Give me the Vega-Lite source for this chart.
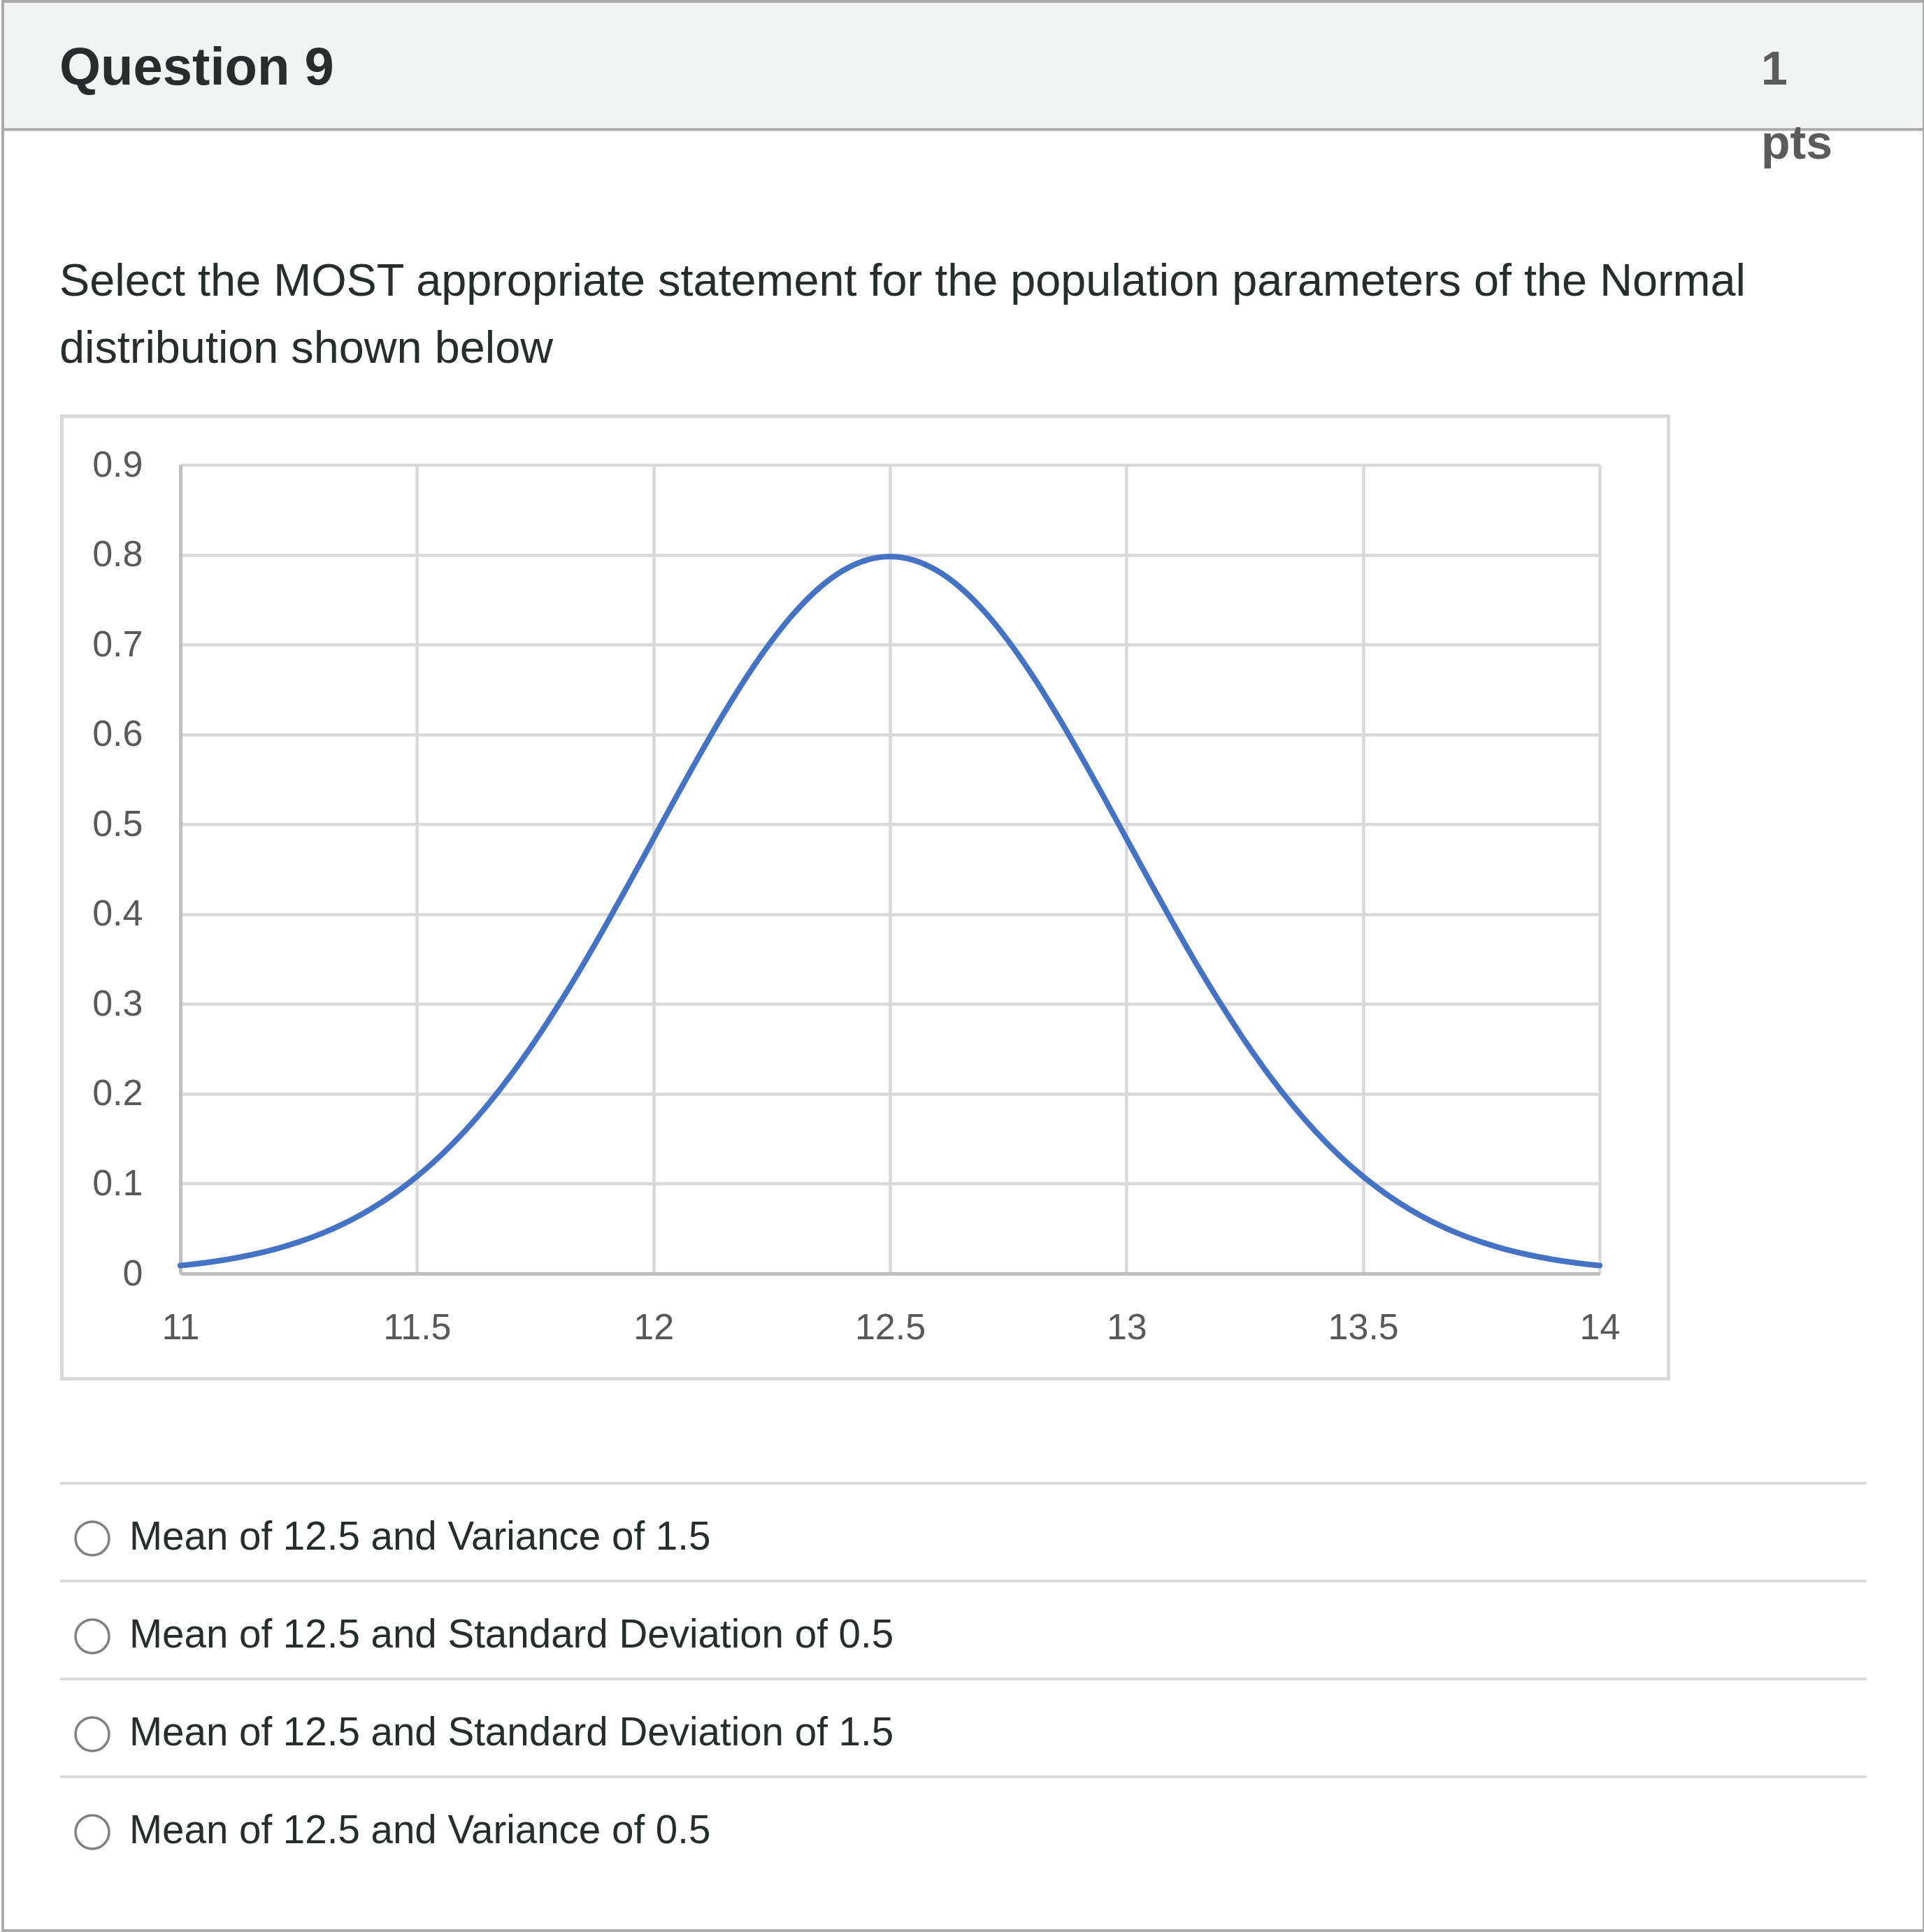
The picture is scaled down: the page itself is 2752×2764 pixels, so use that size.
{
  "$schema": "https://vega.github.io/schema/vega-lite/v6.json",
  "padding": 0,
  "background": "white",
  "autosize": {"type": "pad"},
  "spacing": 300,
  "bounds": "flush",
  "config": {"view": {"stroke": null}, "font": "Liberation Sans"},
  "vconcat": [
    {
      "width": 2030,
      "height": 365,
      "layer": [
        {
          "data": {"values": [{"part": "header"}]},
          "mark": {"type": "rect", "fill": "#f2f4f4"},
          "encoding": {"x": {"value": -256}, "x2": {"value": 2496}, "y": {"value": 0}, "y2": {"value": 185}}
        },
        {
          "data": {"values": [{"part": "header border"}]},
          "mark": {"type": "rule", "stroke": "#ababab", "strokeWidth": 4},
          "encoding": {"x": {"value": -256}, "x2": {"value": 2496}, "y": {"value": 185.3}}
        },
        {
          "data": {"values": [{"part": "page border"}]},
          "mark": {"type": "rect", "fill": "transparent", "stroke": "#ababab", "strokeWidth": 4},
          "encoding": {"x": {"value": -254}, "x2": {"value": 2494}, "y": {"value": 2}, "y2": {"value": 2762}}
        },
        {
          "data": {"values": [{"label": "Question 9"}]},
          "mark": {"type": "text", "align": "left", "baseline": "alphabetic", "font": "Liberation Sans", "fontWeight": "bold", "fontSize": 76, "color": "#272c2c"},
          "encoding": {"x": {"value": -173}, "y": {"value": 121}, "text": {"field": "label"}}
        },
        {
          "data": {"values": [{"label": "1\npts"}]},
          "mark": {"type": "text", "align": "left", "baseline": "alphabetic", "lineBreak": "\n", "lineHeight": 106, "font": "Liberation Sans", "fontWeight": "bold", "fontSize": 68, "color": "#5b5b5b"},
          "encoding": {"x": {"value": 2261}, "y": {"value": 121}, "text": {"field": "label"}}
        },
        {
          "data": {"values": [{"label": "Select the MOST appropriate statement for the population parameters of the Normal\ndistribution shown below"}]},
          "mark": {"type": "text", "align": "left", "baseline": "alphabetic", "lineBreak": "\n", "lineHeight": 96, "font": "Liberation Sans", "fontSize": 64.8, "color": "#272c2c"},
          "encoding": {"x": {"value": -173}, "y": {"value": 423}, "text": {"field": "label"}}
        }
      ]
    },
    {
      "width": 2030,
      "height": 1157,
      "layer": [
        {
          "data": {"values": [{"part": "chart frame"}]},
          "mark": {"type": "rect", "fill": "transparent", "stroke": "#d9d9d9", "strokeWidth": 5},
          "encoding": {"x": {"value": -169.5}, "x2": {"value": 2128.5}, "y": {"value": -69.5}, "y2": {"value": 1307.5}}
        },
        {
          "data": {"values": [
            {"x": 11.0, "y": 0.0089}, {"x": 11.05, "y": 0.0119}, {"x": 11.1, "y": 0.0158}, {"x": 11.15, "y": 0.0208},
            {"x": 11.2, "y": 0.0272}, {"x": 11.25, "y": 0.0351}, {"x": 11.3, "y": 0.0448}, {"x": 11.35, "y": 0.0567},
            {"x": 11.4, "y": 0.071}, {"x": 11.45, "y": 0.088}, {"x": 11.5, "y": 0.108}, {"x": 11.55, "y": 0.1312},
            {"x": 11.6, "y": 0.1579}, {"x": 11.65, "y": 0.1881}, {"x": 11.7, "y": 0.2218}, {"x": 11.75, "y": 0.259},
            {"x": 11.8, "y": 0.2995}, {"x": 11.85, "y": 0.3427}, {"x": 11.9, "y": 0.3884}, {"x": 11.95, "y": 0.4357},
            {"x": 12.0, "y": 0.4839}, {"x": 12.05, "y": 0.5322}, {"x": 12.1, "y": 0.5794}, {"x": 12.15, "y": 0.6245},
            {"x": 12.2, "y": 0.6665}, {"x": 12.25, "y": 0.7041}, {"x": 12.3, "y": 0.7365}, {"x": 12.35, "y": 0.7628},
            {"x": 12.4, "y": 0.7821}, {"x": 12.45, "y": 0.7939}, {"x": 12.5, "y": 0.7979},
            {"x": 12.55, "y": 0.7939}, {"x": 12.6, "y": 0.7821}, {"x": 12.65, "y": 0.7628}, {"x": 12.7, "y": 0.7365},
            {"x": 12.75, "y": 0.7041}, {"x": 12.8, "y": 0.6665}, {"x": 12.85, "y": 0.6245}, {"x": 12.9, "y": 0.5794},
            {"x": 12.95, "y": 0.5322}, {"x": 13.0, "y": 0.4839}, {"x": 13.05, "y": 0.4357}, {"x": 13.1, "y": 0.3884},
            {"x": 13.15, "y": 0.3427}, {"x": 13.2, "y": 0.2995}, {"x": 13.25, "y": 0.259}, {"x": 13.3, "y": 0.2218},
            {"x": 13.35, "y": 0.1881}, {"x": 13.4, "y": 0.1579}, {"x": 13.45, "y": 0.1312}, {"x": 13.5, "y": 0.108},
            {"x": 13.55, "y": 0.088}, {"x": 13.6, "y": 0.071}, {"x": 13.65, "y": 0.0567}, {"x": 13.7, "y": 0.0448},
            {"x": 13.75, "y": 0.0351}, {"x": 13.8, "y": 0.0272}, {"x": 13.85, "y": 0.0208}, {"x": 13.9, "y": 0.0158},
            {"x": 13.95, "y": 0.0119}, {"x": 14.0, "y": 0.0089}
          ]},
          "mark": {"type": "line", "color": "#4472c4", "strokeWidth": 8, "interpolate": "monotone", "strokeCap": "round"},
          "encoding": {
            "x": {
              "field": "x", "type": "quantitative",
              "scale": {"domain": [11, 14], "nice": false, "zero": false},
              "axis": {
                "values": [11, 11.5, 12, 12.5, 13, 13.5, 14], "format": "~g", "title": null,
                "grid": true, "gridColor": "#d9d9d9", "gridWidth": 4.5,
                "domainColor": "#bfbfbf", "domainWidth": 5,
                "ticks": false, "tickSize": 0,
                "labelFont": "Liberation Sans", "labelFontSize": 52, "labelColor": "#595959",
                "labelPadding": 52, "labelFlush": false, "labelOverlap": false
              }
            },
            "y": {
              "field": "y", "type": "quantitative",
              "scale": {"domain": [0, 0.9], "nice": false, "zero": true},
              "axis": {
                "values": [0, 0.1, 0.2, 0.3, 0.4, 0.5, 0.6, 0.7, 0.8, 0.9], "format": ".1~f", "title": null,
                "grid": true, "gridColor": "#d9d9d9", "gridWidth": 4.5,
                "domainColor": "#bfbfbf", "domainWidth": 5,
                "ticks": false, "tickSize": 0,
                "labelFont": "Liberation Sans", "labelFontSize": 52, "labelColor": "#595959",
                "labelPadding": 54, "labelFlush": false, "labelOverlap": false
              }
            }
          }
        }
      ]
    },
    {
      "width": 2030,
      "height": 560,
      "data": {"values": [
        {"opt": "Mean of 12.5 and Variance of 1.5"},
        {"opt": "Mean of 12.5 and Standard Deviation of 0.5"},
        {"opt": "Mean of 12.5 and Standard Deviation of 1.5"},
        {"opt": "Mean of 12.5 and Variance of 0.5"}
      ]},
      "layer": [
        {
          "mark": {"type": "rule", "stroke": "#dcdcdc", "strokeWidth": 4},
          "encoding": {
            "y": {"field": "opt", "type": "nominal", "sort": null, "bandPosition": 0, "scale": {"type": "band", "paddingInner": 0, "paddingOuter": 0}, "axis": null},
            "x": {"value": -172},
            "x2": {"value": 2412}
          }
        },
        {
          "mark": {"type": "point", "shape": "circle", "size": 2304, "filled": true, "fill": "white", "stroke": "#808080", "strokeWidth": 3.5, "opacity": 1, "yOffset": 9},
          "encoding": {
            "y": {"field": "opt", "type": "nominal", "sort": null, "scale": {"type": "band", "paddingInner": 0, "paddingOuter": 0}, "axis": null},
            "x": {"value": -126}
          }
        },
        {
          "mark": {"type": "text", "align": "left", "baseline": "alphabetic", "dy": 25, "font": "Liberation Sans", "fontSize": 56.5, "color": "#272c2c"},
          "encoding": {
            "y": {"field": "opt", "type": "nominal", "sort": null, "scale": {"type": "band", "paddingInner": 0, "paddingOuter": 0}, "axis": null},
            "x": {"value": -73},
            "text": {"field": "opt"}
          }
        }
      ]
    }
  ]
}
